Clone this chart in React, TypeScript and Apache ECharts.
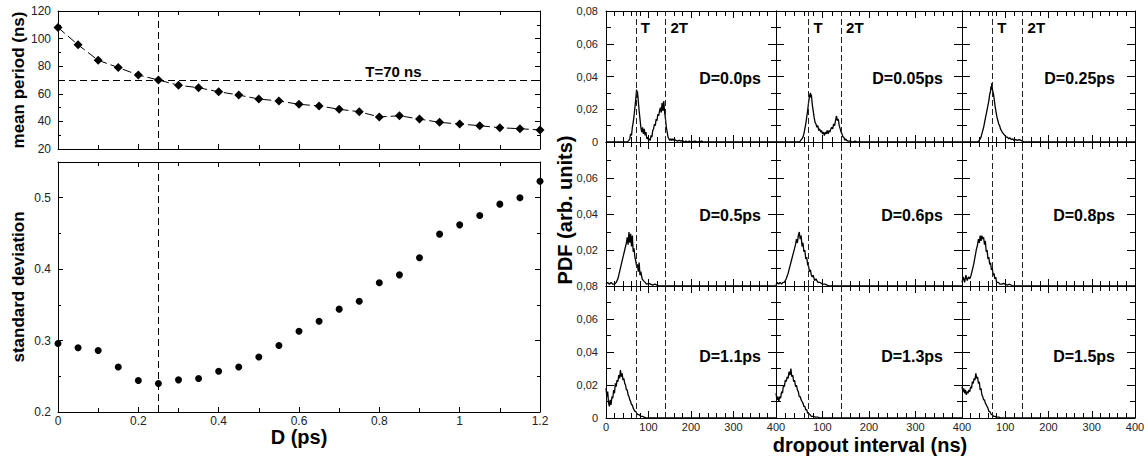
import React, { useEffect, useRef } from "react";
import * as echarts from "echarts";

const FONT = "'Liberation Sans', Arial, Helvetica, sans-serif";

// ---------- Left panels ----------
const dValues = [0, 0.05, 0.1, 0.15, 0.2, 0.25, 0.3, 0.35, 0.4, 0.45, 0.5, 0.55, 0.6, 0.65, 0.7, 0.75, 0.8, 0.85, 0.9, 0.95, 1.0, 1.05, 1.1, 1.15, 1.2];
const meanPeriod = [108, 95.5, 84.3, 79, 73.6, 70, 66.2, 64.4, 61.5, 59.1, 56.2, 54.8, 52.4, 51.2, 48.8, 47, 43.2, 44.1, 41.7, 39.3, 38.1, 36.9, 35.4, 34.7, 33.8];
const stdDeviation = [0.296, 0.29, 0.286, 0.263, 0.244, 0.24, 0.245, 0.247, 0.257, 0.263, 0.277, 0.293, 0.313, 0.327, 0.344, 0.355, 0.381, 0.392, 0.416, 0.449, 0.462, 0.475, 0.491, 0.5, 0.523];
const periodT = 70;
const markedD = 0.25;
const periodLabel = "T=70 ns";

// ---------- Right panels (PDF of dropout intervals) ----------
const lineT = 70;
const line2T = 140;
const panelLabels = ["D=0.0ps", "D=0.05ps", "D=0.25ps", "D=0.5ps", "D=0.6ps", "D=0.8ps", "D=1.1ps", "D=1.3ps", "D=1.5ps"];

const pdfD00 = [[0,0],[50,0],[54,0.001],[56,0.002],[58,0.005],[60,0.004],[62,0.009],[64,0.012],[66,0.016],[68,0.021],[70,0.026],[72,0.032],[73,0.027],[74,0.031],[76,0.025],[78,0.019],[80,0.014],[82,0.009],[84,0.006],[86,0.009],[88,0.005],[90,0.008],[92,0.004],[94,0.006],[96,0.002],[98,0.003],[100,0.001],[102,0.002],[104,0.001],[106,0.004],[108,0.003],[110,0.007],[112,0.008],[114,0.011],[116,0.01],[118,0.014],[120,0.013],[122,0.017],[124,0.016],[126,0.019],[128,0.021],[130,0.018],[132,0.024],[134,0.019],[136,0.025],[138,0.018],[140,0.014],[142,0.009],[144,0.006],[146,0.003],[148,0.002],[150,0.001],[152,0.002],[154,0.001],[156,0.002],[158,0.001],[160,0.002],[164,0.001],[168,0.0005],[172,0.001],[176,0.0005],[180,0.001],[184,0],[188,0.0005],[192,0],[196,0.0005],[200,0],[210,0.0005],[215,0],[225,0.0005],[230,0],[400,0]];
const pdfD05 = [[0,0],[50,0],[52,0.0005],[56,0.002],[58,0.003],[60,0.005],[62,0.008],[64,0.011],[66,0.015],[68,0.019],[70,0.024],[72,0.028],[74,0.03],[75,0.027],[76,0.029],[78,0.023],[80,0.019],[82,0.015],[84,0.012],[86,0.011],[88,0.009],[90,0.01],[92,0.007],[94,0.008],[96,0.006],[98,0.007],[100,0.005],[102,0.006],[104,0.004],[106,0.006],[108,0.005],[110,0.007],[112,0.005],[114,0.007],[116,0.006],[118,0.008],[120,0.009],[122,0.008],[124,0.011],[126,0.01],[128,0.013],[130,0.016],[132,0.013],[134,0.014],[136,0.01],[138,0.008],[140,0.006],[142,0.005],[144,0.003],[146,0.003],[148,0.001],[150,0.002],[152,0.001],[155,0.0005],[160,0.0005],[165,0],[170,0.0005],[175,0],[400,0]];
const pdfD25 = [[0,0],[36,0],[40,0.001],[44,0.003],[47,0.006],[50,0.009],[53,0.013],[56,0.017],[59,0.021],[62,0.025],[64,0.029],[66,0.031],[67,0.034],[68,0.032],[69,0.036],[70,0.033],[71,0.031],[73,0.029],[75,0.025],[77,0.021],[79,0.018],[81,0.015],[83,0.013],[85,0.011],[87,0.01],[89,0.008],[91,0.007],[93,0.006],[96,0.005],[99,0.004],[102,0.003],[105,0.003],[108,0.002],[111,0.0025],[114,0.0015],[117,0.002],[120,0.001],[124,0.0015],[128,0.001],[132,0.0015],[136,0.001],[140,0.0005],[144,0],[400,0]];
const pdfD50 = [[0,0.001],[4,0.002],[8,0.001],[12,0.002],[16,0.001],[20,0.001],[24,0.002],[28,0.004],[32,0.008],[36,0.012],[40,0.016],[44,0.02],[48,0.024],[50,0.027],[52,0.023],[54,0.03],[56,0.024],[58,0.029],[60,0.022],[62,0.028],[64,0.019],[66,0.021],[68,0.016],[70,0.014],[72,0.011],[74,0.012],[76,0.008],[78,0.013],[80,0.006],[82,0.008],[85,0.004],[88,0.003],[92,0.002],[96,0.001],[100,0.0015],[105,0.001],[110,0.0005],[115,0.001],[120,0.0005],[126,0],[400,0]];
const pdfD60 = [[0,0.0005],[3,0.002],[6,0.001],[9,0.002],[12,0.001],[15,0.002],[18,0.002],[22,0.004],[26,0.007],[30,0.011],[34,0.015],[38,0.019],[42,0.023],[44,0.026],[46,0.024],[48,0.028],[50,0.03],[52,0.026],[54,0.028],[56,0.022],[58,0.024],[60,0.019],[62,0.02],[64,0.015],[66,0.016],[68,0.012],[70,0.011],[72,0.008],[74,0.009],[76,0.006],[78,0.005],[80,0.006],[83,0.003],[86,0.004],[90,0.002],[95,0.002],[100,0.001],[105,0.001],[110,0.0005],[116,0],[400,0]];
const pdfD80 = [[0,0.002],[3,0.005],[6,0.002],[9,0.006],[12,0.003],[15,0.005],[18,0.004],[21,0.006],[24,0.009],[27,0.012],[30,0.016],[33,0.02],[36,0.023],[38,0.026],[40,0.024],[42,0.028],[44,0.025],[46,0.028],[48,0.026],[50,0.027],[52,0.023],[54,0.025],[56,0.019],[58,0.02],[60,0.015],[62,0.016],[64,0.012],[66,0.013],[68,0.009],[70,0.01],[72,0.006],[74,0.007],[76,0.004],[78,0.005],[80,0.002],[84,0.002],[88,0.001],[92,0.001],[96,0.0015],[100,0.001],[105,0.0005],[110,0.001],[117,0],[400,0]];
const pdfD110 = [[0,0.018],[2,0.013],[4,0.016],[6,0.009],[8,0.007],[10,0.011],[12,0.008],[14,0.013],[16,0.012],[18,0.017],[20,0.015],[22,0.021],[24,0.019],[26,0.023],[28,0.022],[30,0.026],[32,0.024],[34,0.029],[36,0.025],[38,0.027],[40,0.023],[42,0.024],[44,0.021],[46,0.02],[48,0.017],[50,0.017],[52,0.014],[54,0.013],[56,0.011],[58,0.01],[60,0.008],[62,0.008],[64,0.006],[66,0.005],[68,0.004],[70,0.004],[72,0.003],[75,0.002],[78,0.002],[82,0.001],[86,0.001],[90,0.0005],[95,0],[400,0]];
const pdfD130 = [[0,0.015],[2,0.011],[4,0.013],[6,0.01],[8,0.013],[10,0.012],[12,0.016],[14,0.015],[16,0.02],[18,0.019],[20,0.023],[22,0.022],[24,0.025],[26,0.024],[28,0.028],[30,0.026],[32,0.03],[34,0.025],[36,0.026],[38,0.022],[40,0.023],[42,0.019],[44,0.02],[46,0.017],[48,0.016],[50,0.013],[52,0.013],[54,0.011],[56,0.01],[58,0.009],[60,0.007],[62,0.007],[64,0.005],[66,0.005],[68,0.003],[70,0.003],[73,0.002],[76,0.001],[80,0.001],[85,0.0005],[90,0.0005],[95,0],[400,0]];
const pdfD150 = [[0,0.019],[2,0.016],[4,0.018],[6,0.015],[8,0.017],[10,0.014],[12,0.016],[14,0.015],[16,0.017],[18,0.016],[20,0.019],[22,0.018],[24,0.022],[26,0.021],[28,0.024],[30,0.023],[32,0.027],[34,0.024],[36,0.025],[38,0.021],[40,0.022],[42,0.017],[44,0.018],[46,0.014],[48,0.013],[50,0.011],[52,0.011],[54,0.009],[56,0.008],[58,0.007],[60,0.006],[62,0.004],[64,0.004],[66,0.003],[68,0.002],[70,0.002],[73,0.001],[76,0.001],[80,0.0005],[85,0.0005],[90,0],[400,0]];
const pdfSeries = [pdfD00, pdfD05, pdfD25, pdfD50, pdfD60, pdfD80, pdfD110, pdfD130, pdfD150];

// layout (pixels)
const colLeft = [606, 776, 962];
const colWidth = [170, 186, 173];
const rowTop = [11, 142, 286];
const rowHeight = [131, 144, 132];
const labelDistance = [15, 19, 20];
const labelLevel = [0.039, 0.039, 0.037];

const fmtLeftX = (v: number) => String(Number(v.toFixed(2)));
const fmtComma = (v: number) => (v === 0 ? "0" : v.toFixed(2).replace(".", ","));

function axisPair(kind: "x" | "y", gridIndex: number, cfg: any) {
  const mk = (pos: string, showLabel: boolean) => ({
    type: "value",
    gridIndex,
    position: pos,
    min: cfg.min,
    max: cfg.max,
    interval: cfg.interval,
    axisLine: { show: true, onZero: false, lineStyle: { color: "#000", width: 1 } },
    axisTick: { show: true, inside: true, length: cfg.tickLen, lineStyle: { color: "#000", width: 1 } },
    minorTick: { show: true, splitNumber: cfg.minorSplit, length: cfg.minorLen, lineStyle: { color: "#000", width: 1 } },
    splitLine: { show: false },
    minorSplitLine: { show: false },
    axisLabel: showLabel
      ? {
          show: true,
          margin: cfg.margin,
          fontSize: cfg.fontSize,
          color: "#222",
          fontFamily: FONT,
          formatter: cfg.formatter,
          showMinLabel: cfg.showMin !== false,
          showMaxLabel: cfg.showMax !== false,
        }
      : { show: false },
  });
  if (kind === "x") return [mk("bottom", !!cfg.showLabel), mk("top", false)];
  return [mk("left", !!cfg.showLabel), mk("right", false)];
}

export default function App() {
  const ref = useRef<HTMLDivElement>(null);
  useEffect(() => {
    document.body.style.margin = "0";
    if (!ref.current) return;
    const chart = echarts.init(ref.current, null, { renderer: "svg" });

    const grid: any[] = [
      { left: 58, top: 11, width: 482, height: 138 },
      { left: 58, top: 162, width: 482, height: 250 },
    ];
    const xAxis: any[] = [];
    const yAxis: any[] = [];
    xAxis.push(...axisPair("x", 0, { min: 0, max: 1.2, interval: 0.2, minorSplit: 2, tickLen: 5, minorLen: 4, showLabel: false }));
    yAxis.push(...axisPair("y", 0, { min: 20, max: 120, interval: 20, minorSplit: 2, tickLen: 5, minorLen: 3, showLabel: true, margin: 7, fontSize: 12 }));
    xAxis.push(...axisPair("x", 1, { min: 0, max: 1.2, interval: 0.2, minorSplit: 2, tickLen: 5, minorLen: 4, showLabel: true, margin: 3, fontSize: 12, formatter: fmtLeftX }));
    yAxis.push(...axisPair("y", 1, { min: 0.2, max: 0.55, interval: 0.1, minorSplit: 2, tickLen: 5, minorLen: 3, showLabel: true, margin: 7, fontSize: 12, showMax: false }));

    const series: any[] = [
      {
        type: "line",
        xAxisIndex: 0,
        yAxisIndex: 0,
        data: dValues.map((d, i) => [d, meanPeriod[i]]),
        symbol: "diamond",
        symbolSize: 9,
        itemStyle: { color: "#000", opacity: 1 },
        lineStyle: { color: "#000", width: 1, type: [9, 4] },
        markLine: {
          silent: true,
          symbol: ["none", "none"],
          label: { show: false },
          lineStyle: { color: "#000", width: 1, type: [7, 4] },
          data: [{ yAxis: periodT }, { xAxis: markedD }],
        },
        markPoint: {
          silent: true,
          data: [
            {
              coord: [0.765, 76.5],
              symbol: "circle",
              symbolSize: 0,
              label: { show: true, formatter: periodLabel, position: "right", distance: 0, fontSize: 15, fontWeight: "bold", color: "#000", fontFamily: FONT },
            },
          ],
        },
      },
      {
        type: "scatter",
        xAxisIndex: 2,
        yAxisIndex: 2,
        data: dValues.map((d, i) => [d, stdDeviation[i]]),
        symbol: "circle",
        symbolSize: 7,
        itemStyle: { color: "#000", opacity: 1 },
        markLine: {
          silent: true,
          symbol: ["none", "none"],
          label: { show: false },
          lineStyle: { color: "#000", width: 1, type: [7, 4] },
          data: [{ xAxis: markedD }],
        },
      },
    ];

    for (let r = 0; r < 3; r++) {
      for (let c = 0; c < 3; c++) {
        const k = r * 3 + c;
        const gi = 2 + k;
        grid.push({ left: colLeft[c], top: rowTop[r], width: colWidth[c], height: rowHeight[r] });
        xAxis.push(
          ...axisPair("x", gi, {
            min: 0, max: 400, interval: 100, minorSplit: 5, tickLen: 7, minorLen: 5,
            showLabel: r === 2, margin: 3, fontSize: 11, showMin: c === 0,
          })
        );
        yAxis.push(
          ...axisPair("y", gi, {
            min: 0, max: 0.08, interval: 0.02, minorSplit: 2, tickLen: 8, minorLen: 5,
            showLabel: c === 0, margin: 8, fontSize: 11, formatter: fmtComma,
            showMin: r !== 1, showMax: r !== 1,
          })
        );
        const mpData: any[] = [
          {
            coord: [400, labelLevel[r]],
            symbol: "circle",
            symbolSize: 0,
            label: { show: true, formatter: panelLabels[k], position: "left", distance: labelDistance[c], fontSize: 16, fontWeight: "bold", color: "#000", fontFamily: FONT },
          },
        ];
        if (r === 0) {
          mpData.push(
            {
              coord: [lineT, 0.07],
              symbol: "circle",
              symbolSize: 0,
              label: { show: true, formatter: "T", position: "right", distance: 5, fontSize: 15, fontWeight: "bold", color: "#000", fontFamily: FONT },
            },
            {
              coord: [line2T, 0.07],
              symbol: "circle",
              symbolSize: 0,
              label: { show: true, formatter: "2T", position: "right", distance: 5, fontSize: 15, fontWeight: "bold", color: "#000", fontFamily: FONT },
            }
          );
        }
        series.push({
          type: "line",
          xAxisIndex: 2 * gi,
          yAxisIndex: 2 * gi,
          data: pdfSeries[k],
          showSymbol: false,
          symbol: "none",
          lineStyle: { color: "#000", width: 1.3 },
          markLine: {
            silent: true,
            symbol: ["none", "none"],
            label: { show: false },
            lineStyle: { color: "#222", width: 1, type: [6, 3] },
            data: [{ xAxis: lineT }, { xAxis: line2T }],
          },
          markPoint: { silent: true, data: mpData },
        });
      }
    }

    const titleStyle = (text: string, size: number) => ({
      text,
      fill: "#000",
      fontSize: size,
      fontWeight: "bold",
      fontFamily: FONT,
      textAlign: "center",
      textVerticalAlign: "middle",
    });

    chart.setOption({
      animation: false,
      backgroundColor: "#fff",
      grid,
      xAxis,
      yAxis,
      series,
      graphic: [
        { type: "text", x: 18, y: 80, rotation: Math.PI / 2, style: titleStyle("mean period (ns)", 17) },
        { type: "text", x: 18, y: 287, rotation: Math.PI / 2, style: titleStyle("standard deviation", 17) },
        { type: "text", x: 299, y: 437, style: titleStyle("D (ps)", 20) },
        { type: "text", x: 565, y: 210, rotation: Math.PI / 2, style: titleStyle("PDF (arb. units)", 20) },
        { type: "text", x: 870, y: 445, style: titleStyle("dropout interval (ns)", 20) },
      ],
    });
    return () => chart.dispose();
  }, []);
  return <div ref={ref} style={{ width: 1148, height: 459 }} />;
}
